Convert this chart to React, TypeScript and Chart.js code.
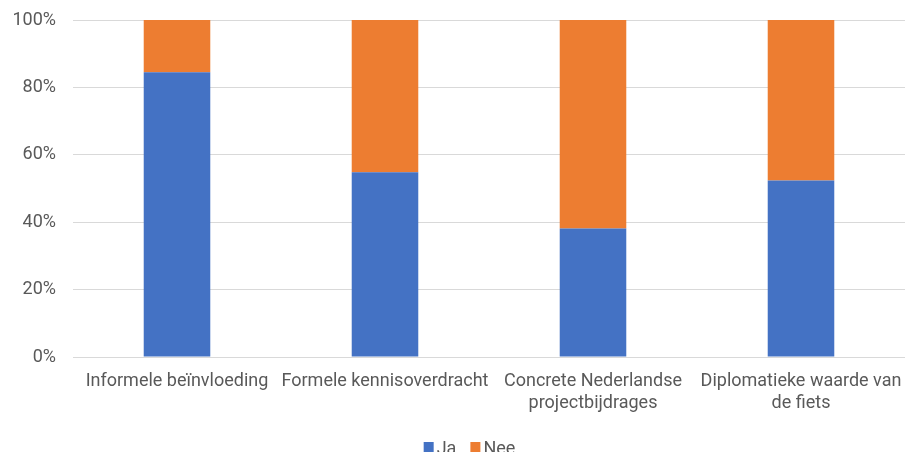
import React, { useEffect, useRef } from "react";
import { Chart, registerables } from "chart.js";

Chart.register(...registerables);

const categories: (string | string[])[] = [
  "Informele beïnvloeding",
  "Formele kennisoverdracht",
  ["Concrete Nederlandse", "projectbijdrages"],
  ["Diplomatieke waarde van", "de fiets"],
];
const jaValues = [84.5, 54.8, 38.1, 52.4];
const neeValues = [15.5, 45.2, 61.9, 47.6];
const yTicks = [0, 20, 40, 60, 80, 100];

const FONT = "Roboto, sans-serif";
const FONT_SIZE = 18;
const TEXT_COLOR = "#595959";

const customLegend = {
  id: "customLegend",
  afterDraw(chart: any) {
    const ctx = chart.ctx;
    const ds = chart.data.datasets;
    ctx.save();
    ctx.font = `${FONT_SIZE}px ${FONT}`;
    ctx.textBaseline = "middle";
    ctx.textAlign = "left";
    const box = 10;
    const gapBoxText = 3;
    const gapItems = 14;
    const widths = ds.map((d: any) => box + gapBoxText + ctx.measureText(d.label).width);
    const total = widths.reduce((a: number, b: number) => a + b, 0) + gapItems * (ds.length - 1);
    let x = chart.width / 2 + 17 - total / 2;
    const cy = chart.height - 3;
    ds.forEach((d: any, i: number) => {
      ctx.fillStyle = d.backgroundColor;
      ctx.fillRect(x, cy - 7, box, box);
      ctx.fillStyle = TEXT_COLOR;
      ctx.fillText(d.label, x + box + gapBoxText, cy);
      x += widths[i] + gapItems;
    });
    ctx.restore();
  },
};

export default function App() {
  const ref = useRef<HTMLCanvasElement | null>(null);
  useEffect(() => {
    if (!ref.current) return;
    const chart = new Chart(ref.current, {
      type: "bar",
      data: {
        labels: categories,
        datasets: [
          {
            label: "Ja",
            data: jaValues,
            backgroundColor: "#4472C4",
            barPercentage: 0.64,
            categoryPercentage: 0.5,
          },
          {
            label: "Nee",
            data: neeValues,
            backgroundColor: "#ED7D31",
            barPercentage: 0.64,
            categoryPercentage: 0.5,
          },
        ],
      },
      options: {
        animation: false,
        responsive: false,
        maintainAspectRatio: false,
        layout: { padding: { top: 20, right: 0, left: 0, bottom: 30 } },
        scales: {
          x: {
            stacked: true,
            grid: { display: false },
            border: { display: false },
            afterFit: (axis: any) => {
              axis.paddingLeft = 0;
              axis.paddingRight = 0;
              axis.height = 65;
            },
            ticks: {
              color: TEXT_COLOR,
              font: { family: FONT, size: FONT_SIZE },
              maxRotation: 0,
              autoSkip: false,
              padding: 6,
            },
          },
          y: {
            stacked: true,
            min: 0,
            max: 100,
            afterBuildTicks: (axis: any) => {
              axis.ticks = yTicks.map((v) => ({ value: v }));
            },
            afterFit: (axis: any) => {
              axis.paddingTop = 0;
              axis.paddingBottom = 0;
              axis.width = 73;
            },
            grid: { color: "#D9D9D9", lineWidth: 1, drawTicks: false },
            border: { display: false },
            ticks: {
              color: TEXT_COLOR,
              font: { family: FONT, size: FONT_SIZE },
              padding: 17,
              callback: (v: any) => v + "%",
            },
          },
        },
        plugins: {
          legend: { display: false },
          tooltip: { enabled: false },
        },
      },
      plugins: [customLegend],
    });
    return () => chart.destroy();
  }, []);
  return (
    <div
      style={{
        position: "absolute",
        left: 0,
        top: 0,
        width: 905,
        height: 452,
        overflow: "hidden",
        background: "#fff",
      }}
    >
      <canvas ref={ref} width={905} height={452} />
    </div>
  );
}
